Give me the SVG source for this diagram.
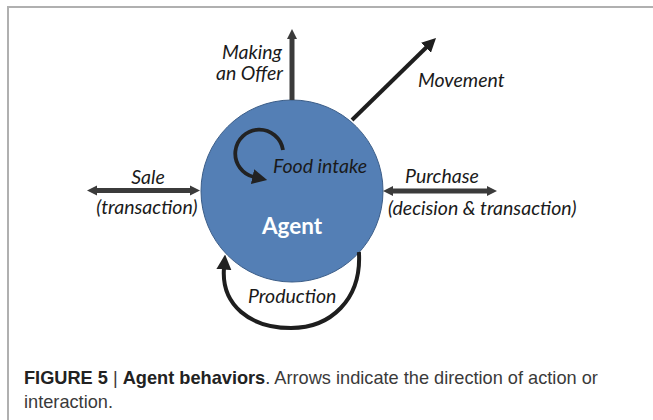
<svg xmlns="http://www.w3.org/2000/svg" width="653" height="420" viewBox="0 0 653 420">
<defs>
<style>
.frame{stroke:#b0b0b0;stroke-width:2;fill:none}
.lbl{font-family:Lato,"Open Sans","Liberation Sans",sans-serif;font-style:italic;font-size:19.5px;fill:#1a1a1a}
.agent{font-family:Lato,"Open Sans","Liberation Sans",sans-serif;font-weight:bold;font-size:22.5px;fill:#ffffff}
.cap{font-family:"Liberation Sans",Arial,sans-serif;font-size:18.2px;fill:#3a3a3a}
.capb{font-weight:bold;fill:#222222}
.thick{stroke:#3b3b3b;stroke-width:5;fill:none}
.thin{stroke:#1e1e1e;stroke-width:4;fill:none}
.loop{stroke:#222222;stroke-width:3.8;fill:none}
</style>
<marker id="hg" viewBox="0 0 10 10" refX="1" refY="5" markerUnits="userSpaceOnUse" markerWidth="10" markerHeight="13" orient="auto-start-reverse"><path d="M0,0 L10,5 L0,10 z" fill="#3b3b3b"/></marker>
<marker id="hb" viewBox="0 0 10 10" refX="1" refY="5" markerUnits="userSpaceOnUse" markerWidth="14" markerHeight="14" orient="auto"><path d="M0,0 L10,5 L0,10 z" fill="#1e1e1e"/></marker>
<marker id="hl" viewBox="0 0 10 10" refX="1" refY="5" markerUnits="userSpaceOnUse" markerWidth="15" markerHeight="17" orient="auto"><path d="M0,0 L10,5 L0,10 z" fill="#222222"/></marker>
</defs>
<rect width="653" height="420" fill="#ffffff"/>
<path class="frame" d="M8,420 V7 H653"/>

<g id="agent">
<circle cx="292" cy="191" r="91" fill="#547fb5" stroke="#3b5d88" stroke-width="1"/>
<text class="agent" x="292" y="234" text-anchor="middle">Agent</text>
</g>

<g id="connectors">
<line id="offer" class="thick" x1="292" y1="100" x2="292" y2="38" marker-end="url(#hg)"/>
<line id="movement" class="thin" x1="352" y1="120" x2="427" y2="46.8" marker-end="url(#hb)"/>
<line id="sale" class="thick" x1="191" y1="190.5" x2="96" y2="190.5" marker-start="url(#hg)" marker-end="url(#hg)"/>
<line id="purchase" class="thick" x1="392" y1="191" x2="488" y2="191" marker-start="url(#hg)" marker-end="url(#hg)"/>
<path id="food" class="loop" d="M283,150 A24,24 0 1 0 254,177" marker-end="url(#hl)"/>
<path id="production" class="thin" d="M358.9,252 C362,300 330,328 291,328 C250,328 221,305 224,268" marker-end="url(#hl)"/>
</g>

<g id="labels">
<text class="lbl" x="282" y="59" text-anchor="end">Making</text>
<text class="lbl" x="283" y="80" text-anchor="end">an Offer</text>
<text class="lbl" x="418" y="87">Movement</text>
<text class="lbl" x="148" y="184" text-anchor="middle">Sale</text>
<text class="lbl" x="147" y="214" text-anchor="middle">(transaction)</text>
<text class="lbl" x="405" y="183">Purchase</text>
<text class="lbl" x="388" y="215">(decision &amp; transaction)</text>
<text class="lbl" x="273" y="173">Food intake</text>
<text class="lbl" x="248" y="303">Production</text>
</g>

<g id="caption">
<text class="cap" x="24" y="384"><tspan class="capb">FIGURE 5</tspan> | <tspan class="capb">Agent behaviors</tspan>. Arrows indicate the direction of action or</text>
<text class="cap" x="24" y="408">interaction.</text>
</g>
</svg>
